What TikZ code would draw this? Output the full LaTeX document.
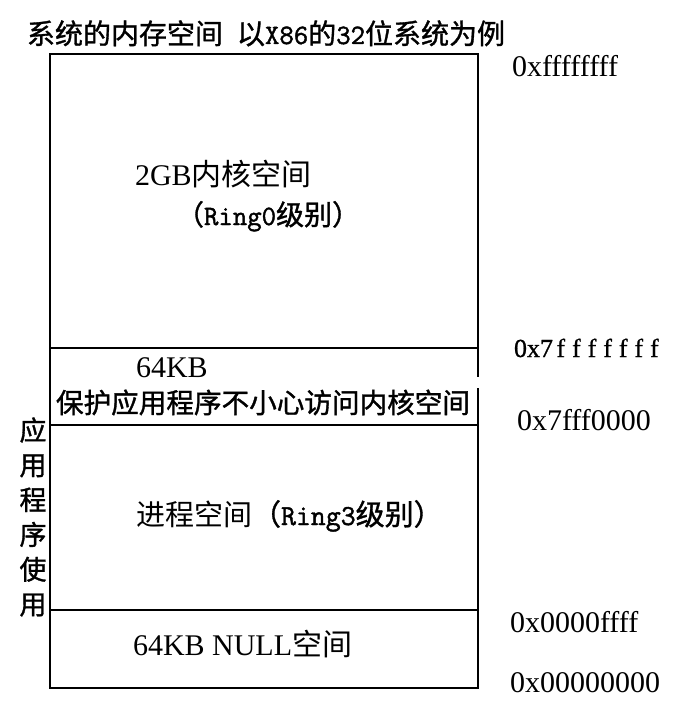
\documentclass[tikz,border=0pt]{standalone}
\usepackage{fontspec}
\setmainfont{Liberation Serif}
\newfontfamily\cjk{Noto Sans CJK SC}
\newfontfamily\cjkb[FakeBold=1.2]{Noto Sans CJK SC}
\newfontfamily\monob[FakeBold=1.5]{Latin Modern Mono}
\newfontfamily\serifb[FakeBold=0.8]{Liberation Serif}
\newcommand\spf{\makebox[15.6pt]{f}}
\begin{document}
\begin{tikzpicture}[x=1pt,y=-1pt,
  txt/.style={inner sep=0pt, outer sep=0pt},
  hex/.style={txt, anchor=base west, font=\fontsize{30}{36}\selectfont},
  inlbl/.style={txt, anchor=base west},
  box/.style={draw=black, line width=1.2pt}]
\useasboundingbox[fill=white] (0,0) rectangle (673,725);
% memory box
\draw[box] (50,54) rectangle (478,688);
\draw[box] (50,348) -- (478,348);
\draw[box] (50,425) -- (478,425);
\draw[box] (50,610) -- (478,610);
\fill[white] (475,377) rectangle (481,388);
% title
\node[txt, anchor=base west, font=\fontsize{28}{34}\selectfont] (title) at (27,44)
  {\cjkb 系统的内存空间\hspace{14pt}以{\monob X86}的{\monob 32}位系统为例};
% region labels
\node[inlbl, font=\fontsize{30}{36}\selectfont] (kern) at (135,185) {2GB{\cjk 内核空间}};
\node[inlbl, font=\fontsize{28}{34}\selectfont] (ring0) at (176,225) {\cjkb （{\monob Ring0}级别）};
\node[inlbl, font=\fontsize{30}{36}\selectfont] (guard) at (136,377) {64KB};
\node[inlbl, font=\fontsize{27.6}{34}\selectfont] (guardtxt) at (56,413) {\cjkb 保护应用程序不小心访问内核空间};
\node[inlbl, font=\fontsize{29}{34}\selectfont] (proc) at (136,525) {\cjk 进程空间{\cjkb （{\monob Ring3}级别）}};
\node[inlbl, font=\fontsize{30}{36}\selectfont] (null) at (133,655) {64KB NULL{\cjk 空间}};
% side label
\node[txt, align=center, font=\cjkb\fontsize{27}{34.8}\selectfont] (side) at (33,517) {应\\用\\程\\序\\使\\用};
% addresses
\node[hex] (a1) at (512,77) {0xffffffff};
\node[hex, font=\serifb\fontsize{26}{30}\selectfont] (a2) at (514,357) {0x7\spf\spf\spf\spf\spf\spf\spf};
\node[hex] (a3) at (517,430) {0x7fff0000};
\node[hex] (a4) at (510,632) {0x0000ffff};
\node[hex] (a5) at (510,692) {0x00000000};
\end{tikzpicture}
\end{document}
